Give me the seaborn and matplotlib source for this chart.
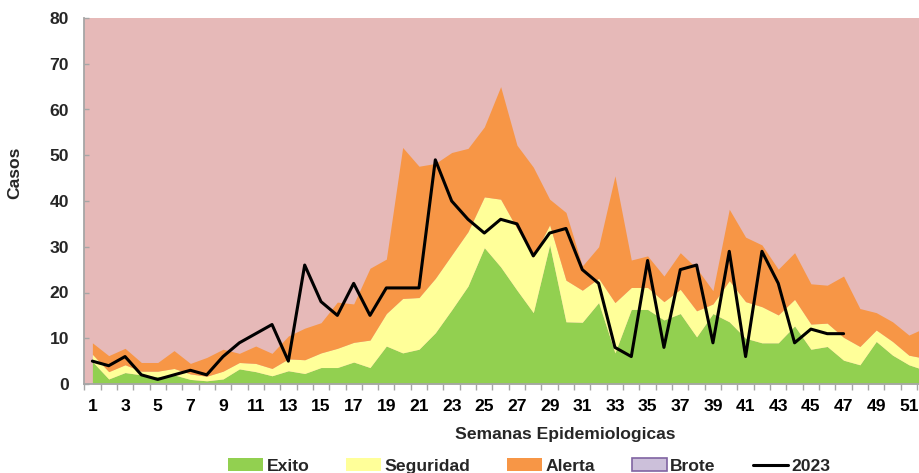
import numpy as np
import pandas as pd
import matplotlib
matplotlib.use('Agg')
import matplotlib.pyplot as plt
import seaborn as sns
from matplotlib.patches import Patch
from matplotlib.lines import Line2D

# ---------------- data ----------------
weeks = list(range(1, 53))
# upper boundary of each stacked band (cumulative levels)
exito_top = [4.9, 1.1, 2.5, 2.0, 1.6, 2.0, 1.0, 0.7, 1.1, 3.3, 2.7, 1.8, 2.9, 2.3, 3.6, 3.6,
             4.8, 3.6, 8.3, 6.8, 7.6, 11.2, 16.2, 21.4, 29.8, 25.6, 20.5, 15.6, 30.4, 13.6,
             13.5, 17.8, 6.8, 16.3, 16.3, 14.0, 15.4, 10.3, 15.4, 13.6, 10.0, 9.0, 9.0, 12.7,
             7.6, 8.2, 5.2, 4.2, 9.3, 6.3, 4.2, 3.0]
seguridad_top = [6.5, 2.7, 4.2, 2.8, 2.8, 3.4, 2.2, 1.7, 2.8, 4.7, 4.5, 3.4, 5.5, 5.3, 6.8, 7.8,
                 9.1, 9.6, 15.4, 18.7, 18.9, 23.1, 28.2, 33.3, 40.9, 40.4, 34.0, 27.8, 34.8, 22.7,
                 20.5, 23.1, 17.8, 21.1, 21.1, 18.0, 20.7, 16.0, 17.5, 22.6, 18.0, 16.9, 15.1, 18.5,
                 13.1, 13.3, 10.2, 8.2, 11.8, 9.3, 6.3, 5.6]
alerta_top = [9.0, 6.2, 7.8, 4.7, 4.7, 7.3, 4.5, 5.8, 7.6, 6.7, 8.3, 6.7, 10.5, 12.2, 13.4, 17.9,
              17.5, 25.3, 27.3, 51.7, 47.6, 48.2, 50.6, 51.5, 56.2, 65.0, 52.2, 47.4, 40.4, 37.5,
              25.8, 30.0, 45.5, 27.1, 28.0, 23.6, 28.7, 25.3, 20.4, 38.2, 32.1, 30.4, 25.1, 28.7,
              21.9, 21.6, 23.6, 16.5, 15.6, 13.6, 10.7, 12.3]
weeks_2023 = list(range(1, 48))
casos_2023 = [5, 4, 6, 2, 1, 2, 3, 2, 6, 9, 11, 13, 5, 26, 18, 15, 22, 15, 21, 21, 21, 49, 40, 36,
              33, 36, 35, 28, 33, 34, 25, 22, 8, 6, 27, 8, 25, 26, 9, 29, 6, 29, 22, 9, 12, 11, 11]
xtick_labels = [str(w) for w in range(1, 52, 2)]
yticks = list(range(0, 81, 10))
legend_labels = ['Exito', 'Seguridad', 'Alerta', 'Brote', '2023']

# ---------------- style ----------------
sns.set_theme(style='white')
plt.rcParams['font.family'] = ['Liberation Sans', 'DejaVu Sans']
plt.rcParams['font.weight'] = 'bold'

FS = 12.6
C_GREEN = '#92D050'
C_YELLOW = '#FFFF99'
C_ORANGE = '#F79646'
C_PINK = '#E6B9B8'
C_AXIS = '#A6A6A6'

fig = plt.figure(figsize=(9.2, 4.73), dpi=100)
ax = fig.add_axes([84 / 920, 89 / 473, 836 / 920, 366 / 473])
ax.set_facecolor(C_PINK)

ax.fill_between(weeks, 0, exito_top, color=C_GREEN, lw=0, zorder=1)
ax.fill_between(weeks, exito_top, seguridad_top, color=C_YELLOW, lw=0, zorder=1)
ax.fill_between(weeks, seguridad_top, alerta_top, color=C_ORANGE, lw=0, zorder=1)

df = pd.DataFrame({'semana': weeks_2023, 'casos': casos_2023})
sns.lineplot(data=df, x='semana', y='casos', ax=ax, color='black', lw=2.2,
             legend=False, zorder=3)

ax.set_xlim(0.486, 51.68)
ax.set_ylim(0, 80)

# spines
for s in ['top', 'right']:
    ax.spines[s].set_visible(False)
for s in ['left', 'bottom']:
    ax.spines[s].set_color(C_AXIS)
    ax.spines[s].set_linewidth(1.3)
    ax.spines[s].set_zorder(4)

# x ticks: labels on odd weeks, tick marks between categories
ax.set_xticks(list(range(1, 52, 2)))
ax.set_xticklabels(xtick_labels, fontsize=FS, fontweight='bold')
ax.set_xticks(np.arange(0.5, 52, 1.0), minor=True)
ax.tick_params(axis='x', which='major', length=0, pad=11.0, colors='black')
ax.tick_params(axis='x', which='minor', direction='out', length=4.2, width=1,
               color=C_AXIS, bottom=True)

ax.set_yticks(yticks)
ax.set_yticklabels([str(v) for v in yticks], fontsize=FS, fontweight='bold')
ax.tick_params(axis='y', which='major', direction='in', length=3.6, width=1,
               color=C_AXIS, pad=10.8, left=True)

ax.set_xlabel('Semanas Epidemiologicas', fontsize=FS, fontweight='bold')
ax.xaxis.set_label_coords(0.5755, -0.118)
ax.xaxis.label.set_va('top')
ax.set_ylabel('Casos', fontsize=FS, fontweight='bold')
ax.yaxis.set_label_coords(-0.074, 0.577)
ax.grid(False)

handles = [
    Patch(facecolor=C_GREEN, edgecolor='none'),
    Patch(facecolor=C_YELLOW, edgecolor='none'),
    Patch(facecolor=C_ORANGE, edgecolor='none'),
    Patch(facecolor='#CCC0DA', edgecolor='#8064A2', linewidth=1.2),
    Line2D([0], [0], color='black', lw=2.2),
]
fig.legend(handles, legend_labels, loc='center', bbox_to_anchor=(529 / 920, 1 - 466 / 473),
           ncol=5, frameon=False, prop={'size': FS, 'weight': 'bold'},
           handlelength=2.0, handleheight=0.7, handletextpad=0.2, columnspacing=2.1,
           borderaxespad=0, borderpad=0)

fig.savefig('out.png', dpi=100)
